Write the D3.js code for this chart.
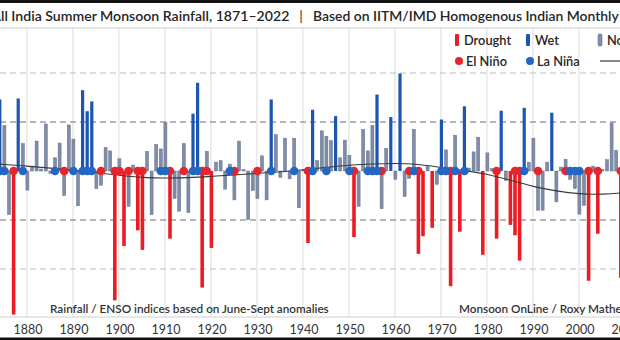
<!DOCTYPE html>
<html><head><meta charset="utf-8">
<script src="https://cdn.jsdelivr.net/npm/d3@7"></script>
<style>
html,body{margin:0;padding:0;background:#fff;}
svg{display:block;}
text{font-family:Lato,"Open Sans",sans-serif;}
</style></head>
<body><svg id="c" width="620" height="340"></svg>
<script>
// ---- data (percent departure of June–Sept rainfall from long-term mean) ----
const firstYear = 1874;
const rainfallAnomaly = [
  14.6, 9.3, -8.9, -29.3, 14.8, 5.6,
  -3.9, 1.0, 6.1, 0.4, 9.6, -0.5, 2.7, 5.7, -5.0, 9.4,
  6.5, -7.1, 16.5, 12.2, 14.2, -3.6, -2.9, 4.8, 4.1, -26.4,
  2.5, -15.3, -7.2, 1.2, -12.1, -16.1, 4.0, -8.9, 5.4, 4.5,
  9.9, -13.8, -5.6, -8.2, 5.6, -8.5, 11.7, 18.0, -23.8, 4.0,
  -15.7, 1.8, 2.1, -3.7, 1.4, -5.9, 6.1, 0.3, -9.9, -4.0,
  -5.6, 3.1, -5.9, 14.6, 7.4, -1.3, 6.7, -1.6, 6.7, -7.5,
  0.3, -14.7, 12.5, 2.1, 8.2, 7.1, 6.2, 11.2, 2.7, 6.3,
  3.2, -13.5, -7.2, 8.5, 4.1, 9.3, 15.6, -7.7, 4.6, 11.0,
  -1.7, 19.9, -5.2, -1.5, 8.5, -16.9, -13.3, 1.0, -11.6, -2.7,
  10.5, 4.3, -23.5, 7.3, -12.4, 13.2, 0.6, 3.9, 6.9, -17.1,
  3.7, 0.5, -13.8, 12.3, -1.9, -11.0, -13.1, -18.3, 12.9, 1.8,
  6.7, -8.0, -8.0, 1.8, 11.9, -6.3, 0.8, 2.4, -1.7, -3.6,
  -8.8, -7.0, -22.4, 1.0, -12.8, 0.3, 2.3, 9.8, 4.2, -21.8
];
const elNinoYears = [1877,1888,1896,1899,1900,1902,1904,1905,1911,1914,1918,1919,1925,1930,1941,1951,1957,1963,1965,1972,1982,1986,1987,1991,1997,2002,2004,2009];
const laNinaYears = [1874,1875,1879,1886,1890,1892,1893,1894,1909,1910,1916,1917,1924,1933,1938,1942,1945,1950,1954,1955,1956,1964,1970,1971,1973,1975,1988,1998,1999,2000];
const trendYears  = [1874,1880,1885,1890,1895,1900,1905,1910,1915,1920,1925,1930,1935,1940,1945,1950,1955,1960,1965,1970,1975,1980,1985,1990,1995,2000,2005,2010];
const trendValues = [1.4,1.0,0.6,0.15,-0.35,-0.9,-1.35,-1.45,-1.4,-1.1,-0.8,-0.45,-0.2,0.25,0.75,1.2,1.45,1.6,1.4,0.7,0.1,-0.6,-1.9,-3.2,-4.1,-4.7,-4.8,-4.4];
const tickYears = [1880,1890,1900,1910,1920,1930,1940,1950,1960,1970,1980,1990,2000,2010];
const gridMajor = [-10, 10];
const gridMinor = [-20, 20];
const legendBarLabels = ["Drought","Wet","Normal"];
const legendDotLabels = ["El Niño","La Niña"];
const titleMain = "All India Summer Monsoon Rainfall, 1871\u20132022";
const titleSep = "|";
const titleSub = "Based on IITM/IMD Homogenous Indian Monthly Rainfall Dataset";
const noteLeft = "Rainfall / ENSO indices based on June-Sept anomalies";
const noteRight = "Monsoon OnLine / Roxy Mathew Koll";

// ---- styling ----
const C = {drought:"#ec1c24", wet:"#1c55b2", normal:"#7f8ea8", normalEdge:"#5f6e89",
           nino:"#e8232a", nina:"#2466c4", text:"#262626"};

const svg = d3.select("#c");
const W = 620, H = 340;
const x = d3.scaleLinear().domain([1880, 2010]).range([27.4, 625.4]);
const y = d3.scaleLinear().domain([-20, 20]).range([269, 73]);
const plotTop = 28, plotBottom = 317;

svg.append("rect").attr("width", W).attr("height", H).attr("fill", "#fff");

// helper: size a text so that a given substring spans a target width
function fitSize(str, target, weight, base) {
  const p = svg.append("text").attr("font-size", base).attr("font-weight", weight).text(str);
  const w = p.node().getComputedTextLength(); p.remove();
  return base * target / w;
}
function measure(str, size, weight) {
  const p = svg.append("text").attr("font-size", size).attr("font-weight", weight).text(str);
  const w = p.node().getComputedTextLength(); p.remove();
  return w;
}

// vertical grid
svg.append("g").selectAll("line").data(tickYears).join("line")
  .attr("x1", d => x(d) - 0.5).attr("x2", d => x(d) - 0.5)
  .attr("y1", plotTop).attr("y2", plotBottom)
  .attr("stroke", "#dcdcdc").attr("stroke-width", 1);

// horizontal dashed grid
svg.append("g").selectAll("line").data(gridMinor).join("line")
  .attr("x1", 0).attr("x2", W).attr("y1", d => y(d)).attr("y2", d => y(d))
  .attr("stroke", "#bdbdbd").attr("stroke-width", 1.1).attr("stroke-dasharray", "6,4");
svg.append("g").selectAll("line").data(gridMajor).join("line")
  .attr("x1", 0).attr("x2", W).attr("y1", d => y(d)).attr("y2", d => y(d))
  .attr("stroke", "#6f6f6f").attr("stroke-width", 1.2).attr("stroke-dasharray", "6,4");

// title rule
svg.append("line").attr("x1", 0).attr("x2", W).attr("y1", plotTop).attr("y2", plotTop)
  .attr("stroke", "#cfcfcf");

// x axis
const xAxis = d3.axisBottom(x).tickValues(tickYears).tickSize(0).tickPadding(8).tickFormat(d3.format("d"));
const gx = svg.append("g").attr("transform", `translate(0,${plotBottom})`).call(xAxis);
gx.select(".domain").attr("stroke", "#cfcfcf").attr("d", `M0,0H${W}`);
gx.selectAll("text").attr("font-size", 12.5).attr("fill", "#333").attr("font-family", "Lato,'Open Sans',sans-serif");

// bars
const data = rainfallAnomaly.map((v, i) => ({year: firstYear + i, v}));
const cat = v => v <= -10 ? "drought" : (v >= 10 ? "wet" : "normal");
const bw = {drought: 3.6, wet: 3.2, normal: 3.0};
svg.append("g").selectAll("rect").data(data).join("rect")
  .attr("x", d => x(d.year) - bw[cat(d.v)] / 2)
  .attr("width", d => bw[cat(d.v)])
  .attr("y", d => Math.min(y(d.v), y(0)))
  .attr("height", d => Math.max(0.8, Math.abs(y(d.v) - y(0))))
  .attr("fill", d => C[cat(d.v)])
  .attr("stroke", d => cat(d.v) === "normal" ? C.normalEdge : "none")
  .attr("stroke-width", 0.5);

// trend line
const trend = trendYears.map((t, i) => [t, trendValues[i]]);
svg.append("path").datum(trend)
  .attr("d", d3.line().x(d => x(d[0])).y(d => y(d[1])).curve(d3.curveBasis))
  .attr("fill", "none").attr("stroke", "#3a3a3a").attr("stroke-width", 1.1);

// ENSO dots
svg.append("g").selectAll("circle").data(elNinoYears).join("circle")
  .attr("cx", d => x(d)).attr("cy", y(0)).attr("r", 4.3).attr("fill", C.nino);
svg.append("g").selectAll("circle").data(laNinaYears).join("circle")
  .attr("cx", d => x(d)).attr("cy", y(0)).attr("r", 4.3).attr("fill", C.nina);

// bands
svg.append("rect").attr("x", 0).attr("y", 0).attr("width", W).attr("height", 3).attr("fill", "#111");
svg.append("rect").attr("x", 0).attr("y", H - 2.5).attr("width", W).attr("height", 2.5).attr("fill", "#111");

// title: main part, "|" separator, subtitle (page is cropped on both sides)
const tSize = Math.min(16.5, fitSize("l India Summer Monsoon Rainfall, 1871\u20132022", 285, 600, 15));
const aw = measure("A", tSize, 600);
svg.append("text").attr("x", 1 - aw).attr("y", 20.5).attr("font-size", tSize).attr("font-weight", 600)
  .attr("fill", C.text).text(titleMain);
svg.append("text").attr("x", 301).attr("y", 20.5).attr("font-size", tSize).attr("font-weight", 400)
  .attr("text-anchor", "middle").attr("fill", C.text).text(titleSep);
const sSize = Math.min(16.5, fitSize("Based on IITM/IMD Homogenous Indian Monthly", 306, 600, 15));
svg.append("text").attr("x", 313).attr("y", 20.5).attr("font-size", sSize).attr("font-weight", 600)
  .attr("fill", C.text).text(titleSub);

// legend
const legBarX = [455, 526, 598];
const legBarCol = [C.drought, C.wet, C.normal];
legendBarLabels.forEach((lab, i) => {
  svg.append("rect").attr("x", legBarX[i]).attr("y", 34).attr("width", 4).attr("height", 12).attr("rx", 1)
    .attr("fill", legBarCol[i]).attr("stroke", i === 2 ? C.normalEdge : "none").attr("stroke-width", 0.5);
  svg.append("text").attr("x", legBarX[i] + 9).attr("y", 44.5).attr("font-size", 12.8).attr("font-weight", 600)
    .attr("fill", C.text).text(lab);
});
const legDotX = [459, 530];
const legDotCol = [C.nino, C.nina];
legendDotLabels.forEach((lab, i) => {
  svg.append("circle").attr("cx", legDotX[i]).attr("cy", 61).attr("r", 4).attr("fill", legDotCol[i]);
  svg.append("text").attr("x", legDotX[i] + 7).attr("y", 65.5).attr("font-size", 12.8).attr("font-weight", 600)
    .attr("fill", C.text).text(lab);
});
svg.append("line").attr("x1", 600).attr("x2", 626).attr("y1", 61).attr("y2", 61)
  .attr("stroke", "#3a3a3a").attr("stroke-width", 1.2);

// notes
const nSize = fitSize(noteLeft, 279, 600, 11.5);
svg.append("text").attr("x", 50).attr("y", 313).attr("font-size", nSize).attr("font-weight", 600)
  .attr("fill", "#333").text(noteLeft);
svg.append("text").attr("x", 459).attr("y", 313).attr("font-size", nSize).attr("font-weight", 600)
  .attr("fill", "#333").text(noteRight);
</script>
</body></html>
